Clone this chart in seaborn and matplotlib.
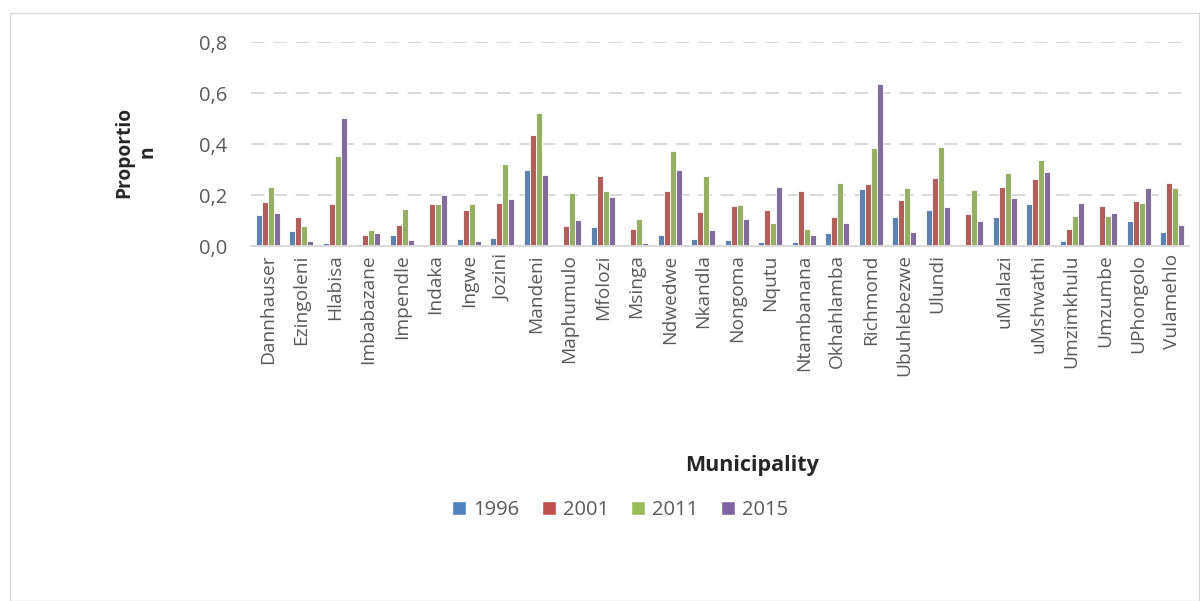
import matplotlib
matplotlib.use("Agg")
import matplotlib.pyplot as plt
import seaborn as sns
import pandas as pd
from matplotlib.patches import Rectangle, Patch
from matplotlib.ticker import FuncFormatter

municipalities = [
    "Dannhauser", "Ezingoleni", "Hlabisa", "Imbabazane", "Impendle", "Indaka",
    "Ingwe", "Jozini", "Mandeni", "Maphumulo", "Mfolozi", "Msinga", "Ndwedwe",
    "Nkandla", "Nongoma", "Nqutu", "Ntambanana", "Okhahlamba", "Richmond",
    "Ubuhlebezwe", "Ulundi", " ", "uMlalazi", "uMshwathi", "Umzimkhulu",
    "Umzumbe", "UPhongolo", "Vulamehlo",
]
years = ["1996", "2001", "2011", "2015"]

p1996 = [0.120, 0.058, 0.010, 0.006, 0.043, 0.000, 0.029, 0.033, 0.300, 0.005,
         0.075, 0.006, 0.042, 0.029, 0.022, 0.014, 0.014, 0.050, 0.224, 0.112,
         0.142, 0.009, 0.114, 0.165, 0.021, 0.006, 0.100, 0.054]
p2001 = [0.171, 0.115, 0.165, 0.042, 0.082, 0.163, 0.140, 0.167, 0.434, 0.077,
         0.273, 0.065, 0.217, 0.135, 0.156, 0.140, 0.214, 0.115, 0.242, 0.182,
         0.265, 0.127, 0.233, 0.261, 0.068, 0.156, 0.176, 0.248]
p2011 = [0.231, 0.078, 0.353, 0.063, 0.144, 0.165, 0.166, 0.323, 0.523, 0.209,
         0.216, 0.105, 0.371, 0.276, 0.159, 0.089, 0.067, 0.248, 0.383, 0.227,
         0.387, 0.218, 0.285, 0.336, 0.116, 0.116, 0.169, 0.227]
p2015 = [0.131, 0.021, 0.503, 0.050, 0.023, 0.201, 0.021, 0.183, 0.280, 0.102,
         0.193, 0.010, 0.300, 0.063, 0.105, 0.231, 0.044, 0.092, 0.637, 0.055,
         0.153, 0.099, 0.188, 0.290, 0.169, 0.131, 0.227, 0.084]

colors = ["#4F81BD", "#C0504D", "#9BBB59", "#8064A2"]

rows = []
for yr, vals in zip(years, [p1996, p2001, p2011, p2015]):
    for m, v in zip(municipalities, vals):
        rows.append({"Municipality": m, "Year": yr, "Proportion": v})
df = pd.DataFrame(rows)

sns.set_style("white")
plt.rcParams["font.family"] = ["Open Sans", "DejaVu Sans"]

fig = plt.figure(figsize=(12, 6.01), dpi=100)
ax = fig.add_axes([251 / 1200, 1 - 246 / 601, (1189 - 251) / 1200, (246 - 42) / 601])

sns.barplot(data=df, x="Municipality", y="Proportion", hue="Year",
            order=municipalities, hue_order=years, palette=colors,
            width=0.72, edgecolor="white", linewidth=0.6, ax=ax, legend=False)

ax.set_ylim(0, 0.8)
ax.set_xlim(-0.5, len(municipalities) - 0.5)
ax.set_yticks([0, 0.2, 0.4, 0.6, 0.8])
ax.yaxis.set_major_formatter(FuncFormatter(lambda v, p: f"{v:.1f}".replace(".", ",")))
ax.yaxis.grid(True, color="#D9D9D9", linestyle=(0, (7, 4.5)), linewidth=1.4)
ax.set_axisbelow(True)
for s in ["top", "right", "left"]:
    ax.spines[s].set_visible(False)
ax.spines["bottom"].set_color("#D9D9D9")
ax.spines["bottom"].set_linewidth(1.4)
ax.tick_params(axis="y", length=0, pad=17, labelsize=14.5, labelcolor="#595959")
ax.tick_params(axis="x", length=0, pad=6, labelsize=13.8, labelcolor="#595959")
plt.setp(ax.get_xticklabels(), rotation=90, ha="center", va="top")
ax.set_xlabel("")
ax.set_ylabel("")

fig.text(136 / 1200, 1 - 152 / 601, "Proportio\nn", rotation=90, ha="center",
         va="center", fontsize=13.8, fontweight="bold", multialignment="center")
fig.text(752 / 1200, 1 - 466 / 601, "Municipality", ha="center", va="center",
         fontsize=15.5, fontweight="bold")

handles = [Patch(facecolor=c, label=y) for c, y in zip(colors, years)]
fig.legend(handles=handles, loc="center", bbox_to_anchor=(620 / 1200, 1 - 510 / 601),
           ncol=4, frameon=False, fontsize=14.5, handlelength=0.7, handleheight=0.7,
           handletextpad=0.35, columnspacing=1.1, labelcolor="#595959")

fig.patches.append(Rectangle((10 / 1200, 0), 1189 / 1200, 1 - 13 / 601,
                             transform=fig.transFigure, fill=False,
                             edgecolor="#D9D9D9", linewidth=1))

fig.savefig("out.png", dpi=100)
